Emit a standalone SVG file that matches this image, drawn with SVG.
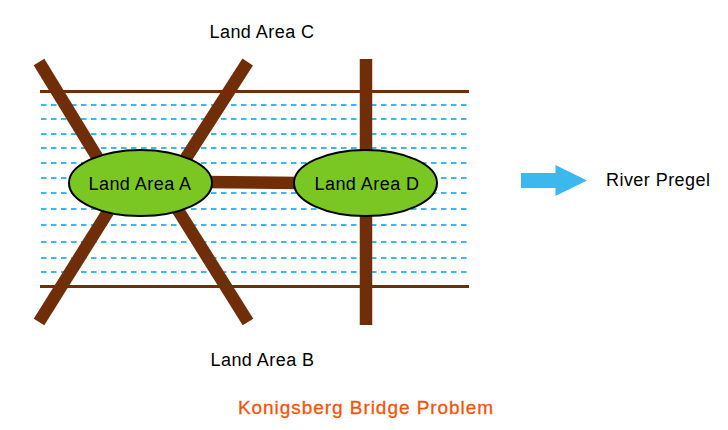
<svg xmlns="http://www.w3.org/2000/svg" width="728" height="430" viewBox="0 0 728 430">
<style>
text{font-family:"Liberation Sans",Arial,sans-serif;font-size:18px;letter-spacing:.45px;fill:#000}
.bank{stroke:#702e08;stroke-width:3;fill:none}
.water{stroke:#3bb9ef;stroke-width:2.200;stroke-dasharray:5.500 4.500;fill:none}
.bridge{stroke:#702e08;stroke-width:12.500;fill:none}
.land{fill:#7ac623;stroke:#000;stroke-width:2}
</style>
<rect width="728" height="430" fill="#fff"/>
<g id="river">
<path class="water" d="M41 105H469M41 119H469M41 134H469M41 148H469M41 163H469M41 178H469M41 193H469M41 209H469M41 225H469M41 242H469M41 258H469M41 272H469"/>
<path class="bank" d="M40 91.500H469M40 286.500H469"/>
</g>
<g id="connectors">
<path class="bridge" d="M39 62L113 183"/>
<path class="bridge" d="M247.700 62L170 183"/>
<path class="bridge" d="M39 322L126 183"/>
<path class="bridge" d="M248 322L161 183"/>
<path class="bridge" d="M366 59V325"/>
<path class="bridge" d="M205 182L300 183"/>
</g>
<g id="land-a"><ellipse class="land" cx="140.500" cy="183" rx="71.500" ry="33"/><text x="140" y="189.500" text-anchor="middle">Land Area A</text></g>
<g id="land-d"><ellipse class="land" cx="365.500" cy="183" rx="71.500" ry="33"/><text x="367" y="189.500" text-anchor="middle">Land Area D</text></g>
<g id="land-c"><text x="262" y="37.500" text-anchor="middle">Land Area C</text></g>
<g id="land-b"><text x="262.500" y="365.500" text-anchor="middle">Land Area B</text></g>
<g id="flow-arrow"><path d="M521 173H555.500V165L587 180.500L555.500 196V188H521Z" fill="#3bb9ef"/></g>
<g id="river-label"><text x="606" y="185.500">River Pregel</text></g>
<g id="title"><text x="366" y="414" text-anchor="middle" style="font-size:19px;letter-spacing:.95px;fill:#f4540a;stroke:#f4540a;stroke-width:.3px">Konigsberg Bridge Problem</text></g>
</svg>
